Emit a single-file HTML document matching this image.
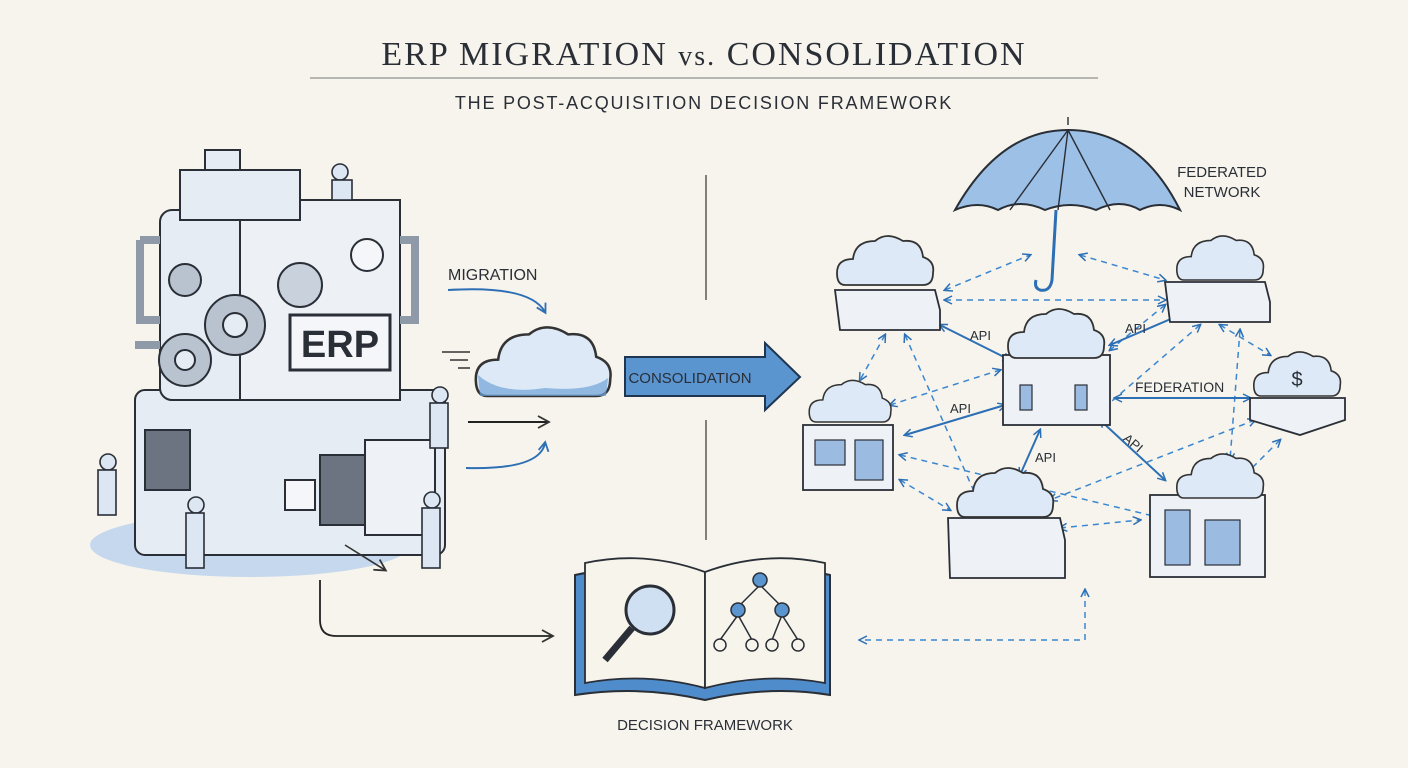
<!DOCTYPE html>
<html><head><meta charset="utf-8"><style>
body{margin:0;background:#f6f4ec;}
svg{display:block}
text{font-family:"Liberation Sans",sans-serif;fill:#2a2e36}
</style></head><body>
<svg width="1408" height="768" viewBox="0 0 1408 768" xmlns="http://www.w3.org/2000/svg">
<defs>
<marker id="ah" markerUnits="userSpaceOnUse" markerWidth="12" markerHeight="12" refX="9" refY="6" orient="auto"><path d="M1,1 L10,6 L1,11" fill="none" stroke="#2d6fb5" stroke-width="1.8"/></marker>
<marker id="ak" markerUnits="userSpaceOnUse" markerWidth="14" markerHeight="14" refX="11" refY="7" orient="auto"><path d="M1,1 L12,7 L1,13" fill="none" stroke="#333" stroke-width="1.8"/></marker>
<marker id="as" markerUnits="userSpaceOnUse" markerWidth="10" markerHeight="10" refX="8" refY="5" orient="auto-start-reverse"><path d="M1,1 L9,5 L1,9" fill="none" stroke="#2d6fb5" stroke-width="1.5"/></marker>
<g id="cloud"><path d="M-40,20 Q-48,20 -48,8 Q-48,-6 -32,-6 Q-30,-24 -10,-24 Q2,-34 18,-24 Q36,-26 38,-8 Q50,-4 48,8 Q48,20 38,20 Z" fill="#dde9f6" stroke="#333" stroke-width="1.8"/></g>
</defs>
<rect width="1408" height="768" fill="#f6f4ec"/>
<text x="704" y="65" text-anchor="middle" style="font-family:'Liberation Serif',serif;font-size:34px;letter-spacing:2px" fill="#3a3e46">ERP MIGRATION <tspan font-size="28">vs.</tspan> CONSOLIDATION</text>
<line x1="310" y1="78" x2="1098" y2="78" stroke="#777" stroke-width="1"/>
<text x="704" y="109" text-anchor="middle" font-size="18" letter-spacing="1.8">THE POST-ACQUISITION DECISION FRAMEWORK</text>
<line x1="706" y1="175" x2="706" y2="300" stroke="#333" stroke-width="1.2"/>
<line x1="706" y1="420" x2="706" y2="540" stroke="#333" stroke-width="1.2"/>

<!-- machine -->
<g stroke="#2a2e36" stroke-width="2" fill="#e6ecf3">
<ellipse cx="250" cy="545" rx="160" ry="32" fill="#c6d8ee" stroke="none"/>
<rect x="135" y="390" width="310" height="165" rx="10"/>
<rect x="160" y="210" width="240" height="190" rx="12"/>
<rect x="240" y="200" width="160" height="200" fill="#edf1f6"/>
<rect x="205" y="150" width="35" height="45"/>
<rect x="180" y="170" width="120" height="50"/>
<rect x="290" y="315" width="100" height="55" fill="#f4f6f9" stroke-width="3"/>
<path d="M140,240 h20 M140,240 v80 h20 M400,240 h15 v80 h-15 M135,345 h25" fill="none" stroke-width="8" stroke="#8e9aa8"/>
<rect x="365" y="440" width="70" height="95" fill="#eef2f7"/>
<rect x="320" y="455" width="45" height="70" fill="#6b7480"/>
<rect x="145" y="430" width="45" height="60" fill="#6b7480"/>
<circle cx="235" cy="325" r="30" fill="#b8c3cf"/><circle cx="235" cy="325" r="12" fill="#e6ecf3"/>
<circle cx="185" cy="360" r="26" fill="#b8c3cf"/><circle cx="185" cy="360" r="10" fill="#e6ecf3"/>
<circle cx="185" cy="280" r="16" fill="#b8c3cf"/>
<circle cx="300" cy="285" r="22" fill="#c9d2dc"/>
<circle cx="367" cy="255" r="16" fill="#f4f6f9"/>
<rect x="285" y="480" width="30" height="30" fill="#f4f6f9"/>
</g>
<text x="340" y="357" text-anchor="middle" font-size="38" font-weight="bold" fill="#4d7fb8">ERP</text>
<g fill="#dce7f3" stroke="#2a2e36" stroke-width="1.6">
<circle cx="340" cy="172" r="8"/><rect x="332" y="180" width="20" height="20"/>
<circle cx="440" cy="395" r="8"/><rect x="430" y="403" width="18" height="45"/>
<circle cx="108" cy="462" r="8"/><rect x="98" y="470" width="18" height="45"/>
<circle cx="196" cy="505" r="8"/><rect x="186" y="513" width="18" height="55"/>
<circle cx="432" cy="500" r="8"/><rect x="422" y="508" width="18" height="60"/>
</g>
<path d="M345,545 L385,570" stroke="#333" stroke-width="1.6" marker-end="url(#ak)"/>
<path d="M442,352 h28 M450,360 h18 M458,368 h12" stroke="#333" stroke-width="1.5"/>

<!-- migration -->
<text x="448" y="280" font-size="16">MIGRATION</text>
<path d="M448,290 Q530,285 545,312" fill="none" stroke="#2d6fb5" stroke-width="2" marker-end="url(#ah)"/>
<use href="#cloud" transform="translate(543,368) scale(1.4)"/>
<path d="M478,375 Q500,395 545,388 Q590,392 608,378 L606,396 L480,396 Z" fill="#6fa3d8" opacity="0.7"/>
<path d="M468,422 H548" stroke="#222" stroke-width="2" marker-end="url(#ak)"/>
<path d="M466,468 Q540,470 545,443" fill="none" stroke="#2d6fb5" stroke-width="2" marker-end="url(#ah)"/>
<!-- consolidation arrow -->
<path d="M625,357 H765 V343 L800,377 L765,410 V396 H625 Z" fill="#5b95d0" stroke="#1f3550" stroke-width="2"/>
<text x="690" y="383" text-anchor="middle" font-size="15" fill="#111">CONSOLIDATION</text>

<!-- umbrella -->
<path d="M955,210 Q1000,130 1068,130 Q1140,130 1180,210 Q1160,200 1140,210 Q1120,198 1096,210 Q1070,200 1045,210 Q1020,198 998,210 Q978,200 955,210 Z" fill="#9cc0e6" stroke="#2a2e36" stroke-width="2"/>
<path d="M1068,130 L1058,210 M1068,130 L1010,210 M1068,130 L1110,210 M1068,125 v-8" stroke="#2a2e36" stroke-width="1.4" fill="none"/>
<path d="M1056,210 L1052,280 Q1050,292 1040,290 Q1034,288 1036,280" fill="none" stroke="#2d6fb5" stroke-width="3"/>
<text x="1222" y="177" text-anchor="middle" font-size="15">FEDERATED</text>
<text x="1222" y="197" text-anchor="middle" font-size="15">NETWORK</text>

<!-- dashed links -->
<g stroke="#3a86d0" stroke-width="1.5" stroke-dasharray="6,5" fill="none" marker-end="url(#as)" marker-start="url(#as)">
<path d="M945,290 L1030,255"/><path d="M1080,255 L1165,280"/><path d="M945,300 L1165,300"/>
<path d="M885,335 L860,380"/><path d="M905,335 L980,505"/><path d="M1220,325 L1270,355"/>
<path d="M1200,325 L1090,420"/><path d="M1165,305 L1110,350"/><path d="M890,405 L1000,370"/>
<path d="M900,480 L950,510"/><path d="M900,455 L1170,520"/><path d="M1060,528 L1140,520"/>
<path d="M1280,440 L1230,490"/><path d="M1255,420 L1050,500"/><path d="M1240,330 L1230,460"/>
<path d="M1085,590 V640 H860"/>
</g>
<g stroke="#2d6fb5" stroke-width="2" fill="none" marker-end="url(#as)" marker-start="url(#as)">
<path d="M940,325 L1010,360"/><path d="M1180,315 L1110,345"/><path d="M1115,398 L1250,398"/>
<path d="M905,435 L1005,405"/><path d="M1040,430 L1020,475"/><path d="M1100,420 L1165,480"/>
</g>
<g font-size="13" fill="#222"><text x="970" y="340">API</text><text x="1125" y="333">API</text><text x="950" y="413">API</text><text x="1035" y="462">API</text><text x="1125" y="448" transform="rotate(40 1135 440)">API</text></g>
<text x="1135" y="392" font-size="14">FEDERATION</text>

<!-- nodes -->
<g stroke="#2a2e36" stroke-width="1.8" fill="#eef2f7">
<path d="M835,290 L935,290 L940,310 L940,330 L840,330 Z"/>
<path d="M1165,282 L1265,282 L1270,302 L1270,322 L1170,322 Z"/>
<path d="M1250,398 L1345,398 L1345,420 L1300,435 L1250,420 Z"/>
<rect x="1003" y="355" width="107" height="70"/>
<rect x="803" y="425" width="90" height="65"/>
<path d="M948,518 L1060,518 L1065,540 L1065,578 L950,578 Z"/>
<rect x="1150" y="495" width="115" height="82"/>
</g>
<g fill="#9bbbe0" stroke="#2a2e36" stroke-width="1.2">
<rect x="1020" y="385" width="12" height="25"/><rect x="1075" y="385" width="12" height="25"/>
<rect x="815" y="440" width="30" height="25"/><rect x="855" y="440" width="28" height="40"/>
<rect x="1165" y="510" width="25" height="55"/><rect x="1205" y="520" width="35" height="45"/>
</g>
<use href="#cloud" transform="translate(885,265)"/>
<use href="#cloud" transform="translate(1220,262) scale(0.9)"/>
<use href="#cloud" transform="translate(1056,338)"/>
<use href="#cloud" transform="translate(1297,378) scale(0.9)"/>
<use href="#cloud" transform="translate(850,405) scale(0.85)"/>
<use href="#cloud" transform="translate(1005,497)"/>
<use href="#cloud" transform="translate(1220,480) scale(0.9)"/>
<text x="1297" y="386" text-anchor="middle" font-size="20" fill="#2d6fb5">$</text>

<!-- book -->
<path d="M575,575 Q640,560 705,580 Q770,560 830,575 L830,695 Q770,685 705,700 Q640,685 575,695 Z" fill="#4f8ccc" stroke="#2a2e36" stroke-width="2"/>
<path d="M585,563 Q645,550 705,572 L705,688 Q645,672 585,683 Z" fill="#f7f4ec" stroke="#2a2e36" stroke-width="1.8"/>
<path d="M705,572 Q765,550 825,563 L825,683 Q765,672 705,688 Z" fill="#f7f4ec" stroke="#2a2e36" stroke-width="1.8"/>
<circle cx="650" cy="610" r="24" fill="#cfe0f2" stroke="#2a2e36" stroke-width="3"/>
<path d="M632,628 L605,660" stroke="#2a2e36" stroke-width="7"/>
<g stroke="#2a2e36" stroke-width="1.5" fill="#5b95d0">
<path d="M760,585 L740,605 M760,585 L780,605 M738,615 L720,640 M738,615 L752,640 M782,615 L772,640 M782,615 L798,640" fill="none"/>
<circle cx="760" cy="580" r="7"/><circle cx="738" cy="610" r="7"/><circle cx="782" cy="610" r="7"/>
<circle cx="720" cy="645" r="6" fill="#f7f4ec"/><circle cx="752" cy="645" r="6" fill="#f7f4ec"/><circle cx="772" cy="645" r="6" fill="#f7f4ec"/><circle cx="798" cy="645" r="6" fill="#f7f4ec"/>
</g>
<text x="705" y="730" text-anchor="middle" font-size="15">DECISION FRAMEWORK</text>
<path d="M320,580 V620 Q320,636 336,636 H552" fill="none" stroke="#222" stroke-width="1.8" marker-end="url(#ak)"/>
</svg>
</body></html>
